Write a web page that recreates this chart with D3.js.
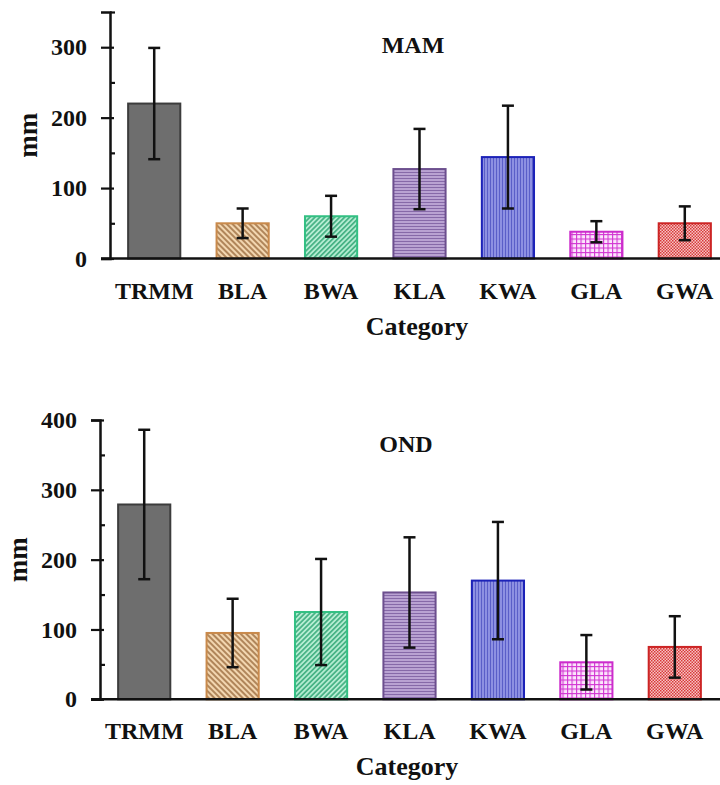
<!DOCTYPE html>
<html>
<head>
<meta charset="utf-8">
<script src="https://cdn.jsdelivr.net/npm/d3@7/dist/d3.min.js"></script>
<style>
  html, body { margin: 0; padding: 0; background: #fff; }
  svg { display: block; font-family: "Liberation Serif", "Times New Roman", serif; font-weight: bold; }
</style>
</head>
<body>
<svg id="chart" width="720" height="785"></svg>
<script>
// Categories shared by both seasons
const categories = ["TRMM", "BLA", "BWA", "KLA", "KWA", "GLA", "GWA"];

// March–May rainfall: mean and standard deviation (mm)
const mamMean = [220, 50, 60, 127, 144, 38, 50];
const mamErr  = [79, 21, 29, 57, 73, 15, 24];

// October–December rainfall: mean and standard deviation (mm)
const ondMean = [279, 95, 125, 153, 170, 53, 75];
const ondErr  = [107, 49, 76, 79, 84, 39, 44];

// Y tick labels per panel
const mamTicks = [0, 100, 200, 300];
const mamMinor = [50, 150, 250, 350];
const ondTicks = [0, 100, 200, 300, 400];
const ondMinor = [50, 150, 250, 350];

const svg = d3.select("#chart");
const defs = svg.append("defs");

// Fill patterns for each category
function hatch(id, bg, fg, angle, size, lw) {
  const p = defs.append("pattern").attr("id", id)
    .attr("patternUnits", "userSpaceOnUse")
    .attr("width", size).attr("height", size)
    .attr("patternTransform", `rotate(${angle})`);
  p.append("rect").attr("width", size).attr("height", size).attr("fill", bg);
  p.append("line").attr("x1", size / 2).attr("x2", size / 2)
    .attr("y1", 0).attr("y2", size)
    .attr("stroke", fg).attr("stroke-width", lw);
}
hatch("pBLA", "#f2d6b0", "#8d5a2b", -45, 4, 1.3);
hatch("pBWA", "#b5ecd2", "#23a06c", 45, 3.5, 1.3);
hatch("pKLA", "#b9a2d2", "#8669a8", 90, 3, 1);
hatch("pKWA", "#8d90e2", "#5a5ec8", 0, 3, 1);

// magenta grid
(function () {
  const p = defs.append("pattern").attr("id", "pGLA")
    .attr("patternUnits", "userSpaceOnUse").attr("width", 4.5).attr("height", 4.5);
  p.append("rect").attr("width", 4.5).attr("height", 4.5).attr("fill", "#fbe6fb");
  p.append("line").attr("x1", 0).attr("x2", 4.5).attr("y1", 0.5).attr("y2", 0.5)
    .attr("stroke", "#d236d2").attr("stroke-width", 1.2);
  p.append("line").attr("x1", 0.5).attr("x2", 0.5).attr("y1", 0).attr("y2", 4.5)
    .attr("stroke", "#d236d2").attr("stroke-width", 1.2);
})();

// red checker
(function () {
  const p = defs.append("pattern").attr("id", "pGWA")
    .attr("patternUnits", "userSpaceOnUse").attr("width", 3).attr("height", 3);
  p.append("rect").attr("width", 3).attr("height", 3).attr("fill", "#f6c4c4");
  p.append("rect").attr("width", 1.5).attr("height", 1.5).attr("fill", "#d83a3a");
  p.append("rect").attr("x", 1.5).attr("y", 1.5).attr("width", 1.5).attr("height", 1.5).attr("fill", "#d83a3a");
})();

const fills   = ["#6e6e6e", "url(#pBLA)", "url(#pBWA)", "url(#pKLA)", "url(#pKWA)", "url(#pGLA)", "url(#pGWA)"];
const strokes = ["#3c3c3c", "#c98a4c", "#33c083", "#6c4f8e", "#1c22b8", "#cc2ccc", "#cc2424"];

function panel(cfg) {
  const g = svg.append("g");
  const x = d3.scaleBand().domain(categories)
    .range([cfg.axisX, cfg.axisX + 619])
    .paddingInner(0.41).paddingOuter(0.205);
  const y = d3.scaleLinear().domain([0, cfg.max]).range([cfg.y0, cfg.yTop]);

  // bars
  g.selectAll("rect.bar").data(categories).join("rect")
    .attr("class", "bar")
    .attr("x", d => x(d))
    .attr("width", x.bandwidth())
    .attr("y", (d, i) => y(cfg.mean[i]))
    .attr("height", (d, i) => y(0) - y(cfg.mean[i]))
    .attr("fill", (d, i) => fills[i])
    .attr("stroke", (d, i) => strokes[i])
    .attr("stroke-width", 2);

  // error bars
  const eb = g.selectAll("g.err").data(categories).join("g").attr("class", "err")
    .attr("transform", d => `translate(${x(d) + x.bandwidth() / 2},0)`);
  eb.append("line")
    .attr("y1", (d, i) => y(cfg.mean[i] + cfg.err[i]))
    .attr("y2", (d, i) => y(cfg.mean[i] - cfg.err[i]));
  eb.append("line").attr("x1", -6).attr("x2", 6)
    .attr("y1", (d, i) => y(cfg.mean[i] + cfg.err[i]))
    .attr("y2", (d, i) => y(cfg.mean[i] + cfg.err[i]));
  eb.append("line").attr("x1", -6).attr("x2", 6)
    .attr("y1", (d, i) => y(cfg.mean[i] - cfg.err[i]))
    .attr("y2", (d, i) => y(cfg.mean[i] - cfg.err[i]));
  eb.selectAll("line").attr("stroke", "#111").attr("stroke-width", 2.5);

  // y axis: major ticks crossing the spine
  const yAx = g.append("g").attr("transform", `translate(${cfg.axisX},0)`)
    .call(d3.axisLeft(y).tickValues(cfg.ticks).tickSizeOuter(0).tickSize(9).tickPadding(14));
  yAx.select(".domain").attr("stroke", "#111").attr("stroke-width", 2.5);
  yAx.selectAll(".tick line").attr("x1", 4).attr("stroke", "#111").attr("stroke-width", 2.2);
  yAx.selectAll(".tick text").attr("font-size", 24).attr("font-family", "Liberation Serif")
    .attr("font-weight", "bold").attr("fill", "#111");

  // minor ticks on the inside
  const yMin = g.append("g").attr("transform", `translate(${cfg.axisX},0)`)
    .call(d3.axisRight(y).tickValues(cfg.minor).tickSizeOuter(0).tickSize(5).tickFormat(""));
  yMin.select(".domain").remove();
  yMin.selectAll(".tick line").attr("stroke", "#111").attr("stroke-width", 2.2);

  // x axis baseline
  g.append("line")
    .attr("x1", cfg.axisX - 9).attr("x2", 720)
    .attr("y1", y(0)).attr("y2", y(0))
    .attr("stroke", "#111").attr("stroke-width", 2.5);

  const xAx = g.append("g").attr("transform", `translate(0,${y(0)})`)
    .call(d3.axisBottom(x).tickSize(0));
  xAx.select(".domain").remove();
  xAx.selectAll(".tick text")
    .attr("y", 40).attr("dy", 0)
    .attr("font-size", 24).attr("font-family", "Liberation Serif")
    .attr("font-weight", "bold").attr("fill", "#111");

  // titles
  g.append("text").attr("x", cfg.axisX + cfg.titleDx).attr("y", cfg.titleY)
    .attr("text-anchor", "middle").attr("font-size", 24).attr("fill", "#111")
    .text(cfg.title);
  g.append("text").attr("x", cfg.axisX + 307).attr("y", y(0) + 76)
    .attr("text-anchor", "middle").attr("font-size", 26).attr("fill", "#111")
    .text("Category");
  g.append("text")
    .attr("transform", `translate(${cfg.axisX - 73},${(cfg.y0 + cfg.yTop) / 2}) rotate(-90)`)
    .attr("text-anchor", "middle").attr("font-size", 27).attr("fill", "#111")
    .text("mm");
}

panel({ title: "MAM", mean: mamMean, err: mamErr, ticks: mamTicks, minor: mamMinor,
        max: 350, axisX: 110, y0: 258.5, yTop: 12, titleDx: 303, titleY: 53 });
panel({ title: "OND", mean: ondMean, err: ondErr, ticks: ondTicks, minor: ondMinor,
        max: 400, axisX: 100, y0: 699.3, yTop: 420, titleDx: 306, titleY: 452 });
</script>
</body>
</html>
